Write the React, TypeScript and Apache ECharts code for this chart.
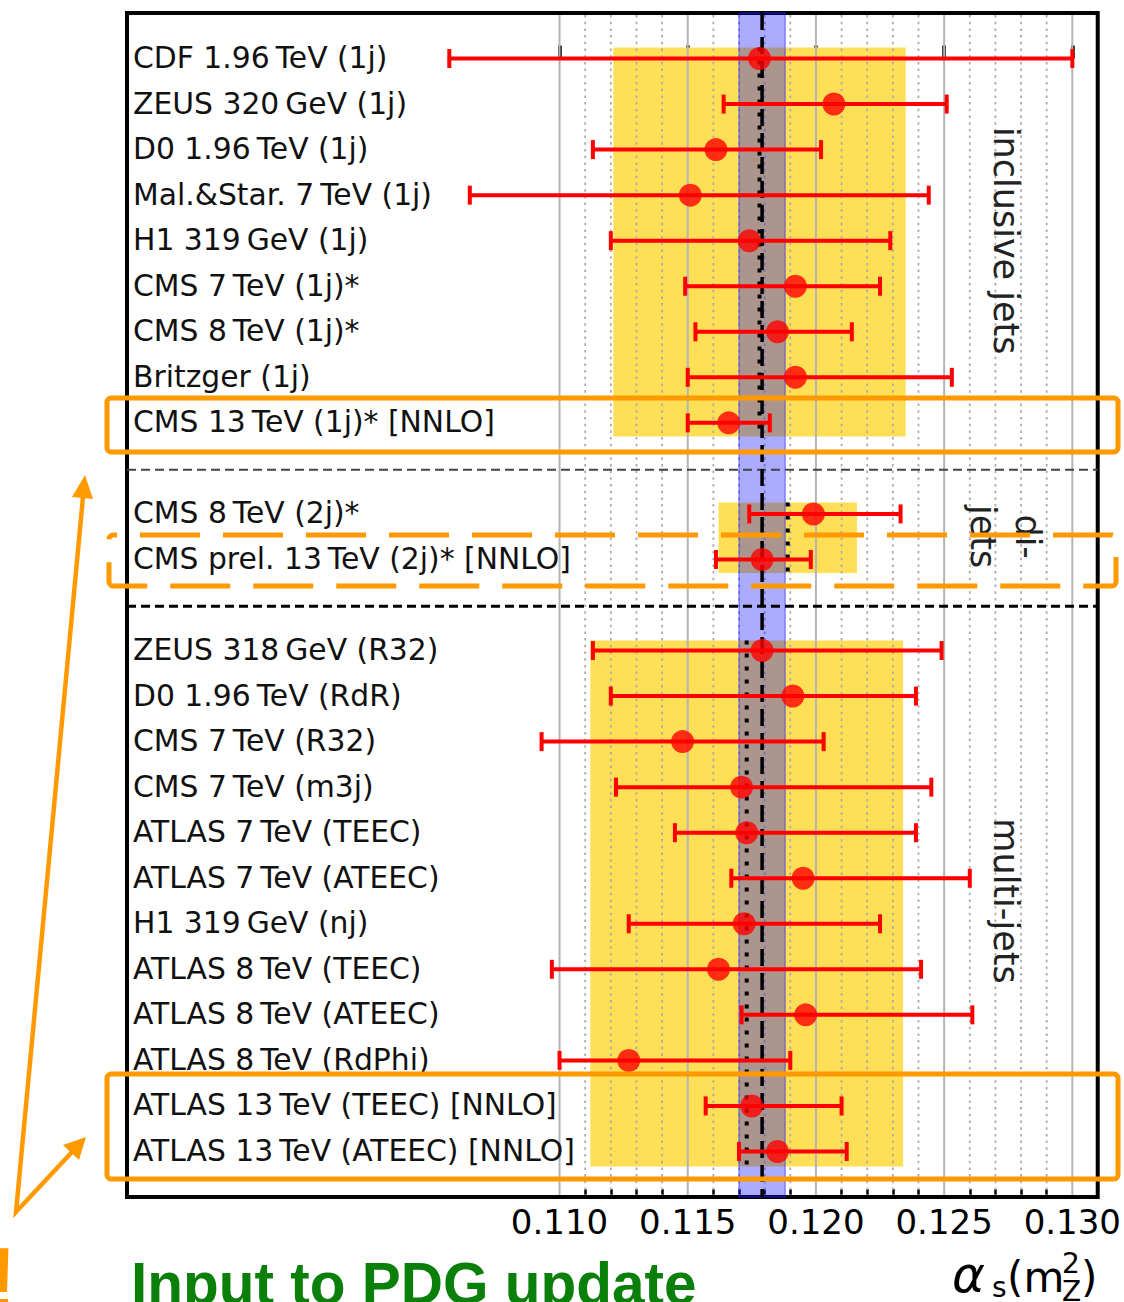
import React, { useEffect, useRef } from "react";
import * as echarts from "echarts";

// Horizontal axis range (alpha_s) and vertical row range (row index, top to bottom)
const X_MIN = 0.09313;
const X_MAX = 0.13099;
const ROW_MIN = -1;
const ROW_MAX = 25;

const TS = "\u2009"; // thin space between number and unit

// Measurements: label, row index, central value, lower and upper edge of the total uncertainty
const labels = [
  `CDF 1.96${TS}TeV (1j)`,
  `ZEUS 320${TS}GeV (1j)`,
  `D0 1.96${TS}TeV (1j)`,
  `Mal.&Star. 7${TS}TeV (1j)`,
  `H1 319${TS}GeV (1j)`,
  `CMS 7${TS}TeV (1j)*`,
  `CMS 8${TS}TeV (1j)*`,
  `Britzger (1j)`,
  `CMS 13${TS}TeV (1j)* [NNLO]`,
  `CMS 8${TS}TeV (2j)*`,
  `CMS prel. 13${TS}TeV (2j)* [NNLO]`,
  `ZEUS 318${TS}GeV (R32)`,
  `D0 1.96${TS}TeV (RdR)`,
  `CMS 7${TS}TeV (R32)`,
  `CMS 7${TS}TeV (m3j)`,
  `ATLAS 7${TS}TeV (TEEC)`,
  `ATLAS 7${TS}TeV (ATEEC)`,
  `H1 319${TS}GeV (nj)`,
  `ATLAS 8${TS}TeV (TEEC)`,
  `ATLAS 8${TS}TeV (ATEEC)`,
  `ATLAS 8${TS}TeV (RdPhi)`,
  `ATLAS 13${TS}TeV (TEEC) [NNLO]`,
  `ATLAS 13${TS}TeV (ATEEC) [NNLO]`,
];
const rows = [0, 1, 2, 3, 4, 5, 6, 7, 8, 10, 11, 13, 14, 15, 16, 17, 18, 19, 20, 21, 22, 23, 24];
const centralValues = [
  0.1178, 0.1207, 0.1161, 0.1151, 0.1174, 0.1192, 0.1185, 0.1192, 0.1166,
  0.1199, 0.1179,
  0.1179, 0.1191, 0.1148, 0.1171, 0.1173, 0.1195, 0.1172, 0.1162, 0.1196, 0.1127, 0.1175, 0.1185,
];
const lowerEdges = [
  0.1057, 0.1164, 0.1113, 0.1065, 0.1120, 0.1149, 0.1153, 0.1150, 0.1150,
  0.1174, 0.1161,
  0.1113, 0.1120, 0.1093, 0.1122, 0.1145, 0.1167, 0.1127, 0.1097, 0.1171, 0.1100, 0.1157, 0.1170,
];
const upperEdges = [
  0.1300, 0.1251, 0.1202, 0.1244, 0.1229, 0.1225, 0.1214, 0.1253, 0.1182,
  0.1233, 0.1198,
  0.1249, 0.1239, 0.1203, 0.1245, 0.1239, 0.1260, 0.1225, 0.1241, 0.1261, 0.1190, 0.1210, 0.1212,
];

// Axis ticks
const majorTicks = [0.11, 0.115, 0.12, 0.125, 0.13];
const minorTicks = [
  0.111, 0.112, 0.113, 0.114, 0.116, 0.117, 0.118, 0.119,
  0.121, 0.122, 0.123, 0.124, 0.126, 0.127, 0.128, 0.129,
];

// Group combinations (yellow bands with dotted centre line)
const groupNames = ["inclusive jets", "di-\njets", "multi-jets"];
const groupCentres = [0.1178, 0.1189, 0.1173];
const groupHalfWidths = [0.0057, 0.0027, 0.0061];
const groupRowStart = [-0.24, 9.75, 12.78];
const groupRowEnd = [8.3, 11.3, 24.33];
const groupLabelRows = [4.0, 10.5, 18.5];
const groupLabelX = 0.1274;

// World average
const worldAverage = 0.1179;
const worldAverageError = 0.0009;

// Dashed separators between the groups
const separatorRows = [9.03, 12.03];

const FONT = "DejaVu Sans";
const ORANGE = "#ff9900";

function buildOption(): any {
  return {
    animation: false,
    backgroundColor: "#ffffff",
    grid: {
      left: 127,
      top: 13,
      width: 973,
      height: 1184,
      show: true,
      borderColor: "#000000",
      borderWidth: 4,
      backgroundColor: "transparent",
      containLabel: false,
    },
    xAxis: [
      {
        type: "value",
        min: X_MIN,
        max: X_MAX,
        position: "bottom",
        axisLine: { show: false },
        splitLine: { show: false },
        axisTick: {
          show: true,
          inside: true,
          length: 13,
          customValues: majorTicks,
          lineStyle: { color: "#000000", width: 3.5 },
        },
        axisLabel: {
          show: true,
          customValues: majorTicks,
          formatter: (v: number) => v.toFixed(3),
          fontSize: 34,
          fontFamily: FONT,
          color: "#000000",
          margin: 8,
        },
      },
      {
        type: "value",
        min: X_MIN,
        max: X_MAX,
        position: "bottom",
        axisLine: { show: false },
        splitLine: { show: false },
        axisLabel: { show: false },
        axisTick: {
          show: true,
          inside: true,
          length: 8,
          customValues: minorTicks,
          lineStyle: { color: "#000000", width: 2.5 },
        },
      },
    ],
    yAxis: {
      type: "value",
      min: ROW_MIN,
      max: ROW_MAX,
      inverse: true,
      show: false,
    },
    series: [
      // yellow group bands
      {
        type: "custom",
        silent: true,
        data: groupCentres.map((c, i) => [c - groupHalfWidths[i], c + groupHalfWidths[i], groupRowStart[i], groupRowEnd[i]]),
        renderItem: (params: any, api: any) => {
          const a = api.coord([api.value(0), api.value(2)]);
          const b = api.coord([api.value(1), api.value(3)]);
          return {
            type: "rect",
            shape: { x: a[0], y: a[1], width: b[0] - a[0], height: b[1] - a[1] },
            style: { fill: "#ffdf55" },
          };
        },
      },
      // vertical grid lines
      {
        type: "custom",
        silent: true,
        data: [...majorTicks.map((v) => [v, 1]), ...minorTicks.map((v) => [v, 0])],
        renderItem: (params: any, api: any) => {
          const x = api.coord([api.value(0), 0])[0];
          const cs = params.coordSys;
          const major = api.value(1) === 1;
          return {
            type: "line",
            shape: { x1: x, y1: cs.y + 2, x2: x, y2: cs.y + cs.height - 2 },
            style: major
              ? { stroke: "#b4b4b4", lineWidth: 2 }
              : { stroke: "#ababab", lineWidth: 1.8, lineDash: [2.5, 4.2] },
          };
        },
      },
      // world average band
      {
        type: "custom",
        silent: true,
        data: [[worldAverage - worldAverageError, worldAverage + worldAverageError]],
        renderItem: (params: any, api: any) => {
          const cs = params.coordSys;
          const x0 = api.coord([api.value(0), 0])[0];
          const x1 = api.coord([api.value(1), 0])[0];
          return {
            type: "rect",
            shape: { x: x0, y: cs.y, width: x1 - x0, height: cs.height },
            style: { fill: "rgba(0,0,255,0.33)", stroke: "rgba(40,40,255,0.45)", lineWidth: 1.5 },
          };
        },
      },
      // separators between the groups
      {
        type: "custom",
        silent: true,
        data: separatorRows.map((r) => [r]),
        renderItem: (params: any, api: any) => {
          const a = api.coord([X_MIN, api.value(0)]);
          const b = api.coord([X_MAX, api.value(0)]);
          const first = params.dataIndex === 0;
          return {
            type: "line",
            shape: { x1: a[0], y1: a[1], x2: b[0], y2: b[1] },
            style: first
              ? { stroke: "#444444", lineWidth: 1.8, lineDash: [9, 5] }
              : { stroke: "#000000", lineWidth: 3, lineDash: [9, 5] },
          };
        },
      },
      // dotted centre line of each group combination
      {
        type: "custom",
        silent: true,
        data: groupCentres.map((c, i) => [c, groupRowStart[i], groupRowEnd[i]]),
        renderItem: (params: any, api: any) => {
          const a = api.coord([api.value(0), api.value(1)]);
          const b = api.coord([api.value(0), api.value(2)]);
          return {
            type: "line",
            shape: { x1: a[0], y1: a[1], x2: b[0], y2: b[1] },
            style: { stroke: "#000000", lineWidth: 4, lineDash: [4, 9] },
          };
        },
      },
      // dashed world average line
      {
        type: "custom",
        silent: true,
        data: [[worldAverage]],
        renderItem: (params: any, api: any) => {
          const cs = params.coordSys;
          const x = api.coord([api.value(0), 0])[0];
          return {
            type: "line",
            shape: { x1: x, y1: cs.y, x2: x, y2: cs.y + cs.height },
            style: { stroke: "#000000", lineWidth: 3.5, lineDash: [17, 7] },
          };
        },
      },
      // measurement names
      {
        type: "custom",
        silent: true,
        data: rows.map((r) => [X_MIN, r]),
        renderItem: (params: any, api: any) => {
          const p = api.coord([api.value(0), api.value(1)]);
          return {
            type: "text",
            x: p[0] + 6,
            y: p[1] - 1,
            style: {
              text: labels[params.dataIndex],
              fill: "#111111",
              fontSize: 29.8,
              fontFamily: FONT,
              align: "left",
              verticalAlign: "middle",
            },
          };
        },
      },
      // group names, rotated
      {
        type: "custom",
        silent: true,
        data: groupLabelRows.map((r) => [groupLabelX, r]),
        renderItem: (params: any, api: any) => {
          const p = api.coord([api.value(0), api.value(1)]);
          return {
            type: "text",
            x: p[0],
            y: p[1],
            rotation: -Math.PI / 2,
            style: {
              text: groupNames[params.dataIndex],
              fill: "#222222",
              fontSize: 35,
              fontFamily: FONT,
              lineHeight: 45,
              align: "center",
              verticalAlign: "middle",
            },
          };
        },
      },
      // error bars
      {
        type: "custom",
        silent: true,
        data: rows.map((r, i) => [lowerEdges[i], upperEdges[i], r]),
        renderItem: (params: any, api: any) => {
          const a = api.coord([api.value(0), api.value(2)]);
          const b = api.coord([api.value(1), api.value(2)]);
          const style = { stroke: "#ff0000", lineWidth: 4 };
          const cap = 9.5;
          return {
            type: "group",
            children: [
              { type: "line", shape: { x1: a[0], y1: a[1], x2: b[0], y2: b[1] }, style },
              { type: "line", shape: { x1: a[0], y1: a[1] - cap, x2: a[0], y2: a[1] + cap }, style },
              { type: "line", shape: { x1: b[0], y1: b[1] - cap, x2: b[0], y2: b[1] + cap }, style },
            ],
          };
        },
      },
      // central values
      {
        type: "scatter",
        silent: true,
        symbol: "circle",
        symbolSize: 23,
        itemStyle: { color: "#ff0000" },
        data: rows.map((r, i) => [centralValues[i], r]),
      },
    ],
    graphic: [
      // highlight boxes
      {
        type: "rect",
        z: 100,
        shape: { x: 107, y: 398, width: 1011, height: 54, r: 4 },
        style: { fill: "none", stroke: ORANGE, lineWidth: 5 },
      },
      {
        type: "rect",
        z: 100,
        shape: { x: 109, y: 535, width: 1007, height: 51, r: 4 },
        style: { fill: "none", stroke: ORANGE, lineWidth: 5, lineDash: [60, 23], lineDashOffset: 56 },
      },
      {
        type: "rect",
        z: 100,
        shape: { x: 107, y: 1074, width: 1011, height: 105, r: 4 },
        style: { fill: "none", stroke: ORANGE, lineWidth: 5 },
      },
      // arrows
      {
        type: "polyline",
        z: 100,
        shape: { points: [[83, 497], [16, 1212], [72, 1152]] },
        style: { fill: "none", stroke: ORANGE, lineWidth: 4.5, lineJoin: "miter" },
      },
      {
        type: "polygon",
        z: 100,
        shape: { points: [[85, 475], [93, 499], [72, 497]] },
        style: { fill: ORANGE },
      },
      {
        type: "polygon",
        z: 100,
        shape: { points: [[86, 1137], [79, 1160], [63, 1145]] },
        style: { fill: ORANGE },
      },
      {
        type: "text",
        z: 100,
        x: -13,
        y: 1280,
        style: {
          text: "!",
          fill: ORANGE,
          fontSize: 90,
          fontWeight: "bold",
          fontFamily: "Liberation Sans",
          align: "left",
          verticalAlign: "middle",
        },
      },
      {
        type: "text",
        z: 100,
        x: 131,
        y: 1283,
        style: {
          text: "Input to PDG update",
          fill: "#0a800a",
          fontSize: 58.5,
          fontWeight: "bold",
          fontFamily: "Liberation Sans",
          align: "left",
          verticalAlign: "middle",
        },
      },
      // axis title alpha_s(m_Z^2)
      {
        type: "text",
        z: 100,
        x: 952,
        y: 1275,
        style: { text: "α", fill: "#000", fontSize: 50, fontStyle: "italic", fontFamily: FONT, align: "left", verticalAlign: "middle" },
      },
      {
        type: "text",
        z: 100,
        x: 992,
        y: 1287,
        style: { text: "s", fill: "#000", fontSize: 28, lineHeight: 22, fontFamily: FONT, align: "left", verticalAlign: "middle" },
      },
      {
        type: "text",
        z: 100,
        x: 1007,
        y: 1277,
        style: { text: "(m", fill: "#000", fontSize: 42, fontFamily: FONT, align: "left", verticalAlign: "middle" },
      },
      {
        type: "text",
        z: 100,
        x: 1062,
        y: 1263,
        style: { text: "2", fill: "#000", fontSize: 28, lineHeight: 20, fontFamily: FONT, align: "left", verticalAlign: "middle" },
      },
      {
        type: "text",
        z: 100,
        x: 1062,
        y: 1291,
        style: { text: "Z", fill: "#000", fontSize: 28, lineHeight: 20, fontFamily: FONT, align: "left", verticalAlign: "middle" },
      },
      {
        type: "text",
        z: 100,
        x: 1081,
        y: 1277,
        style: { text: ")", fill: "#000", fontSize: 42, fontFamily: FONT, align: "left", verticalAlign: "middle" },
      },
    ],
  };
}

export default function App() {
  const ref = useRef<HTMLDivElement | null>(null);
  useEffect(() => {
    if (!ref.current) return;
    const chart = echarts.init(ref.current, undefined, { renderer: "svg" });
    chart.setOption(buildOption());
    return () => {
      chart.dispose();
    };
  }, []);
  return (
    <div
      ref={ref}
      style={{ position: "absolute", left: 0, top: 0, width: 1124, height: 1302, background: "#fff" }}
    />
  );
}
